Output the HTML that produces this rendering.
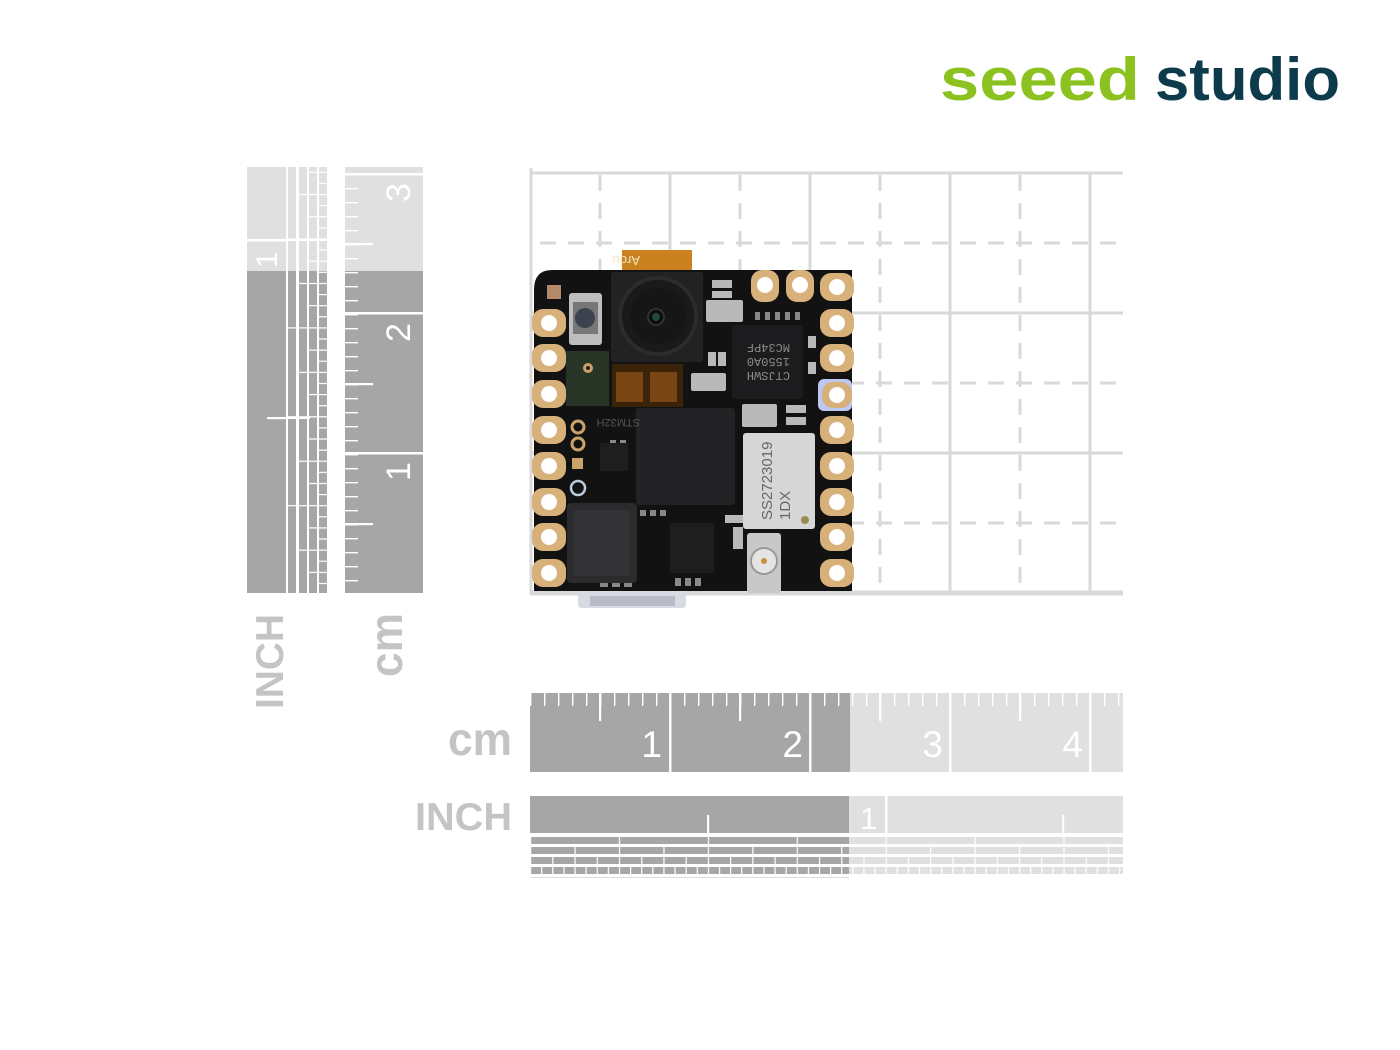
<!DOCTYPE html>
<html><head><meta charset="utf-8"><style>
html,body{margin:0;padding:0;background:#fff;}
svg{display:block;}
</style></head><body>
<svg width="1400" height="1050" viewBox="0 0 1400 1050" xmlns="http://www.w3.org/2000/svg" font-family="'Liberation Sans', sans-serif">
<defs>
  <pattern id="tkB" x="530" y="0" width="14" height="50" patternUnits="userSpaceOnUse"><rect x="-1" y="0" width="2.4" height="50" fill="#fff"/></pattern>
  <pattern id="tkL" x="0" y="594" width="50" height="14" patternUnits="userSpaceOnUse"><rect x="0" y="-1" width="50" height="2.4" fill="#fff"/></pattern>
  <pattern id="r4" x="530" y="0" width="88.9" height="20" patternUnits="userSpaceOnUse"><rect x="-1" y="0" width="2.2" height="20" fill="#fff"/></pattern>
  <pattern id="r8" x="530" y="0" width="44.45" height="20" patternUnits="userSpaceOnUse"><rect x="-1" y="0" width="2.2" height="20" fill="#fff"/></pattern>
  <pattern id="r16" x="530" y="0" width="22.225" height="20" patternUnits="userSpaceOnUse"><rect x="-1" y="0" width="2.2" height="20" fill="#fff"/></pattern>
  <pattern id="r32" x="530" y="0" width="11.1125" height="20" patternUnits="userSpaceOnUse"><rect x="-1" y="0" width="2.2" height="20" fill="#fff"/></pattern>
  <pattern id="v4" x="0" y="594" width="20" height="88.9" patternUnits="userSpaceOnUse"><rect x="0" y="-1" width="20" height="2.2" fill="#fff"/></pattern>
  <pattern id="v8" x="0" y="594" width="20" height="44.45" patternUnits="userSpaceOnUse"><rect x="0" y="-1" width="20" height="2.2" fill="#fff"/></pattern>
  <pattern id="v16" x="0" y="594" width="20" height="22.225" patternUnits="userSpaceOnUse"><rect x="0" y="-1" width="20" height="2.2" fill="#fff"/></pattern>
  <pattern id="v32" x="0" y="594" width="20" height="11.1125" patternUnits="userSpaceOnUse"><rect x="0" y="-1" width="20" height="2.2" fill="#fff"/></pattern>
</defs>

<!-- Logo -->
<text x="940" y="100" font-size="60" font-weight="bold" fill="#8cc21f" textLength="200" lengthAdjust="spacingAndGlyphs">seeed</text>
<text x="1155" y="100" font-size="60" font-weight="bold" fill="#0e3b4c" textLength="185" lengthAdjust="spacingAndGlyphs">studio</text>

<!-- Grid -->
<g stroke="#d9d9d9" stroke-width="3" fill="none">
  <line x1="531" y1="168" x2="531" y2="594"/>
  <line x1="670" y1="172" x2="670" y2="594"/>
  <line x1="810" y1="172" x2="810" y2="594"/>
  <line x1="950" y1="172" x2="950" y2="594"/>
  <line x1="1090" y1="172" x2="1090" y2="594"/>
  <line x1="530" y1="173" x2="1123" y2="173"/>
  <line x1="530" y1="313" x2="1123" y2="313"/>
  <line x1="530" y1="453" x2="1123" y2="453"/>
  <g stroke-dasharray="16 12">
    <line x1="600" y1="175" x2="600" y2="594"/>
    <line x1="740" y1="175" x2="740" y2="594"/>
    <line x1="880" y1="175" x2="880" y2="594"/>
    <line x1="1020" y1="175" x2="1020" y2="594"/>
    <line x1="540" y1="243" x2="1123" y2="243"/>
    <line x1="540" y1="383" x2="1123" y2="383"/>
    <line x1="540" y1="523" x2="1123" y2="523"/>
  </g>
  <line x1="530" y1="593" x2="1123" y2="593" stroke-width="5"/>
</g>

<!-- Board -->
<g>
  <rect x="578" y="588" width="108" height="20" rx="3" fill="#d8dbe3"/>
  <rect x="590" y="596" width="85" height="10" fill="#b8bcc6"/>
  <rect x="622" y="250" width="70" height="24" fill="#c9821d"/>
  <text x="680" y="266" font-size="13" fill="#f3e2c0" transform="rotate(180 660 261)">Ardu</text>
  <path d="M552 270 H852 V591 H534 V290 Q534 270 552 270 Z" fill="#121212"/>
  <!-- pads -->
  <g fill="#d8b07a">
    <rect x="532" y="309" width="34" height="28" rx="11"/>
    <rect x="532" y="344" width="34" height="28" rx="11"/>
    <rect x="532" y="380" width="34" height="28" rx="11"/>
    <rect x="532" y="416" width="34" height="28" rx="11"/>
    <rect x="532" y="452" width="34" height="28" rx="11"/>
    <rect x="532" y="488" width="34" height="28" rx="11"/>
    <rect x="532" y="523" width="34" height="28" rx="11"/>
    <rect x="532" y="559" width="34" height="28" rx="11"/>
    <rect x="820" y="273" width="34" height="28" rx="11"/>
    <rect x="820" y="309" width="34" height="28" rx="11"/>
    <rect x="820" y="344" width="34" height="28" rx="11"/>
    <rect x="820" y="416" width="34" height="28" rx="11"/>
    <rect x="820" y="452" width="34" height="28" rx="11"/>
    <rect x="820" y="488" width="34" height="28" rx="11"/>
    <rect x="820" y="523" width="34" height="28" rx="11"/>
    <rect x="820" y="559" width="34" height="28" rx="11"/>
    <rect x="751" y="270" width="28" height="32" rx="11"/>
    <rect x="786" y="270" width="28" height="32" rx="11"/>
  </g>
  <rect x="818" y="379" width="34" height="32" rx="6" fill="#bcc7f2"/>
  <rect x="822" y="382" width="30" height="26" rx="11" fill="#d8b07a"/>
  <g fill="#fff">
    <circle cx="549" cy="323" r="8"/><circle cx="549" cy="358" r="8"/><circle cx="549" cy="394" r="8"/>
    <circle cx="549" cy="430" r="8"/><circle cx="549" cy="466" r="8"/><circle cx="549" cy="502" r="8"/>
    <circle cx="549" cy="537" r="8"/><circle cx="549" cy="573" r="8"/>
    <circle cx="837" cy="287" r="8"/><circle cx="837" cy="323" r="8"/><circle cx="837" cy="358" r="8"/>
    <circle cx="837" cy="395" r="8"/><circle cx="837" cy="430" r="8"/><circle cx="837" cy="466" r="8"/>
    <circle cx="837" cy="502" r="8"/><circle cx="837" cy="537" r="8"/><circle cx="837" cy="573" r="8"/>
    <circle cx="765" cy="285" r="8"/><circle cx="800" cy="285" r="8"/>
  </g>
  <!-- camera -->
  <rect x="611" y="272" width="92" height="90" rx="3" fill="#222"/>
  <circle cx="658" cy="316" r="38" fill="#1a1a1a" stroke="#2c2c2c" stroke-width="4"/>
  <circle cx="658" cy="316" r="28" fill="#161616"/>
  <circle cx="656" cy="317" r="8" fill="#0c0c0c" stroke="#333" stroke-width="2"/>
  <circle cx="656" cy="317" r="4" fill="#1d4a3a"/>
  <!-- button -->
  <rect x="569" y="293" width="33" height="52" rx="3" fill="#bdbdbd"/>
  <rect x="573" y="302" width="25" height="32" fill="#777"/>
  <circle cx="585" cy="318" r="10" fill="#3c4250"/>
  <rect x="547" y="285" width="14" height="14" fill="#b28a6a"/>
  <!-- mic -->
  <rect x="566" y="351" width="43" height="55" fill="#283526"/>
  <circle cx="588" cy="368" r="5" fill="#caa26a"/><circle cx="588" cy="368" r="2" fill="#222"/>
  <!-- orange parts -->
  <rect x="612" y="364" width="71" height="43" fill="#3a2308"/>
  <rect x="616" y="372" width="27" height="30" fill="#7a4515"/>
  <rect x="650" y="372" width="27" height="30" fill="#7a4515"/>
  <!-- caps -->
  <g fill="#b9b9b9">
    <rect x="706" y="300" width="37" height="22" rx="2"/>
    <rect x="691" y="373" width="35" height="18" rx="2"/>
    <rect x="742" y="404" width="35" height="23" rx="2"/>
    <rect x="712" y="280" width="20" height="8"/><rect x="712" y="291" width="20" height="7"/>
    <rect x="708" y="352" width="8" height="14"/><rect x="718" y="352" width="8" height="14"/>
    <rect x="786" y="405" width="20" height="8"/><rect x="786" y="417" width="20" height="8"/>
    <rect x="808" y="336" width="8" height="12"/><rect x="808" y="362" width="8" height="12"/>
    <rect x="733" y="527" width="10" height="22"/>
    <rect x="725" y="515" width="20" height="8"/>
  </g>
  <g fill="#888">
    <rect x="755" y="312" width="5" height="8"/><rect x="765" y="312" width="5" height="8"/><rect x="775" y="312" width="5" height="8"/><rect x="785" y="312" width="5" height="8"/><rect x="795" y="312" width="5" height="8"/>
    <rect x="610" y="440" width="6" height="6"/><rect x="620" y="440" width="6" height="6"/>
    <rect x="640" y="510" width="6" height="6"/><rect x="650" y="510" width="6" height="6"/><rect x="660" y="510" width="6" height="6"/>
    <rect x="675" y="578" width="6" height="8"/><rect x="685" y="578" width="6" height="8"/><rect x="695" y="578" width="6" height="8"/>
    <rect x="600" y="580" width="8" height="7"/><rect x="612" y="580" width="8" height="7"/><rect x="624" y="580" width="8" height="7"/>
  </g>
  <!-- MC3 chip -->
  <rect x="732" y="325" width="71" height="74" rx="3" fill="#1c1c1e"/>
  <g transform="rotate(180 767 362)" font-family="'Liberation Mono', monospace" font-size="12" fill="#8a8a8a">
    <text x="744" y="352">CTJSWH</text>
    <text x="744" y="366">1550A0</text>
    <text x="744" y="380">MC34PF</text>
  </g>
  <!-- STM32 -->
  <rect x="636" y="408" width="99" height="97" rx="3" fill="#232325"/>
  <text x="700" y="427" font-size="11" fill="#555" transform="rotate(180 670 423)">STM32H</text>
  <!-- silver module -->
  <rect x="743" y="433" width="72" height="96" rx="3" fill="#d6d6d6"/>
  <g transform="rotate(-90 779 481)" font-size="15" fill="#666">
    <text x="740" y="474">SS2723019</text>
    <text x="740" y="492">1DX</text>
  </g>
  <circle cx="805" cy="520" r="4" fill="#9a8a5a"/>
  <!-- bottom chips -->
  <rect x="567" y="503" width="70" height="80" rx="4" fill="#2b2b2d"/>
  <rect x="574" y="510" width="56" height="66" fill="#333336"/>
  <rect x="670" y="523" width="44" height="50" fill="#1e1e1e"/>
  <rect x="600" y="443" width="28" height="28" fill="#1e1e1e"/>
  <!-- arduino logo -->
  <g stroke="#caa26a" stroke-width="3" fill="none">
    <circle cx="578" cy="427" r="6"/><circle cx="578" cy="444" r="6"/>
  </g>
  <rect x="572" y="458" width="11" height="11" fill="#caa26a"/>
  <circle cx="578" cy="488" r="7" fill="none" stroke="#bcd" stroke-width="2.5"/>
  <!-- U.FL -->
  <rect x="747" y="533" width="34" height="60" rx="3" fill="#c8c8c8"/>
  <circle cx="764" cy="561" r="13" fill="#e4e4e4" stroke="#999" stroke-width="2"/>
  <circle cx="764" cy="561" r="3" fill="#c89040"/>
</g>

<!-- Left INCH vertical ruler -->
<g>
  <rect x="247" y="167" width="39" height="104" fill="#e0e0e0"/>
  <rect x="247" y="271" width="39" height="322" fill="#a6a6a6"/>
  <rect x="247" y="239" width="39" height="2.5" fill="#fff"/>
  <rect x="267" y="417" width="19" height="2.2" fill="#fff"/>
  <text x="0" y="0" font-size="30" fill="#fff" transform="translate(277 268) rotate(-90)">1</text>
  <!-- columns -->
  <rect x="288" y="167" width="8" height="104" fill="#e0e0e0"/><rect x="288" y="271" width="8" height="322" fill="#a6a6a6"/>
  <rect x="299" y="167" width="8" height="104" fill="#e0e0e0"/><rect x="299" y="271" width="8" height="322" fill="#a6a6a6"/>
  <rect x="309" y="167" width="8" height="104" fill="#e0e0e0"/><rect x="309" y="271" width="8" height="322" fill="#a6a6a6"/>
  <rect x="319" y="167" width="8" height="104" fill="#e0e0e0"/><rect x="319" y="271" width="8" height="322" fill="#a6a6a6"/>
  <rect x="288" y="167" width="8" height="426" fill="url(#v4)"/>
  <rect x="299" y="167" width="8" height="426" fill="url(#v8)"/>
  <rect x="309" y="167" width="8" height="426" fill="url(#v16)"/>
  <rect x="319" y="167" width="8" height="426" fill="url(#v32)"/>
  <rect x="285" y="417" width="25" height="2" fill="#fff"/>
  <rect x="285" y="239" width="42" height="2" fill="#fff"/>
</g>

<!-- Left cm vertical ruler -->
<g>
  <rect x="345" y="167" width="78" height="104" fill="#e0e0e0"/>
  <rect x="345" y="271" width="78" height="322" fill="#a6a6a6"/>
  <rect x="345" y="171" width="13" height="422" fill="url(#tkL)"/>
  <rect x="345" y="173" width="78" height="2.5" fill="#fff"/>
  <rect x="345" y="312" width="78" height="2.5" fill="#fff"/>
  <rect x="345" y="452" width="78" height="2.5" fill="#fff"/>
  <rect x="345" y="523" width="28" height="2.2" fill="#fff"/>
  <rect x="345" y="383" width="28" height="2.2" fill="#fff"/>
  <rect x="345" y="243" width="28" height="2.2" fill="#fff"/>
  <g font-size="34" fill="#fff">
    <text transform="translate(410 481) rotate(-90)">1</text>
    <text transform="translate(410 342) rotate(-90)">2</text>
    <text transform="translate(410 202) rotate(-90)">3</text>
  </g>
</g>

<!-- vertical labels -->
<text transform="translate(283 709) rotate(-90)" font-size="39" font-weight="bold" fill="#c4c4c4" textLength="95" lengthAdjust="spacingAndGlyphs">INCH</text>
<text transform="translate(402 677) rotate(-90)" font-size="46" font-weight="bold" fill="#c4c4c4" textLength="64" lengthAdjust="spacingAndGlyphs">cm</text>

<!-- Bottom cm ruler -->
<g>
  <rect x="530" y="693" width="320" height="79" fill="#a6a6a6"/>
  <rect x="850" y="693" width="273" height="79" fill="#e0e0e0"/>
  <rect x="530" y="693" width="593" height="13" fill="url(#tkB)"/>
  <rect x="599" y="693" width="2.2" height="28" fill="#fff"/>
  <rect x="739" y="693" width="2.2" height="28" fill="#fff"/>
  <rect x="879" y="693" width="2.2" height="28" fill="#fff"/>
  <rect x="1019" y="693" width="2.2" height="28" fill="#fff"/>
  <rect x="669" y="693" width="2.5" height="79" fill="#fff"/>
  <rect x="809" y="693" width="2.5" height="79" fill="#fff"/>
  <rect x="949" y="693" width="2.5" height="79" fill="#fff"/>
  <rect x="1089" y="693" width="2.5" height="79" fill="#fff"/>
  <g font-size="37" fill="#fff" text-anchor="end">
    <text x="662" y="757">1</text>
    <text x="803" y="757">2</text>
    <text x="943" y="757">3</text>
    <text x="1083" y="757">4</text>
  </g>
</g>
<text x="512" y="755" font-size="46" font-weight="bold" fill="#c4c4c4" text-anchor="end" textLength="64" lengthAdjust="spacingAndGlyphs">cm</text>

<!-- Bottom INCH ruler -->
<g>
  <rect x="530" y="796" width="319" height="37" fill="#a6a6a6"/>
  <rect x="849" y="796" width="274" height="37" fill="#e0e0e0"/>
  <rect x="885" y="796" width="2.5" height="37" fill="#fff"/>
  <rect x="707" y="815" width="2.2" height="20" fill="#fff"/>
  <rect x="1062" y="815" width="2.2" height="20" fill="#fff"/>
  <text x="860" y="829" font-size="31" fill="#fff">1</text>
  <rect x="530" y="837" width="319" height="7" fill="#a6a6a6"/><rect x="849" y="837" width="274" height="7" fill="#e0e0e0"/>
  <rect x="530" y="847" width="319" height="7" fill="#a6a6a6"/><rect x="849" y="847" width="274" height="7" fill="#e0e0e0"/>
  <rect x="530" y="857" width="319" height="7" fill="#a6a6a6"/><rect x="849" y="857" width="274" height="7" fill="#e0e0e0"/>
  <rect x="530" y="867" width="319" height="7" fill="#a6a6a6"/><rect x="849" y="867" width="274" height="7" fill="#e0e0e0"/>
  <rect x="530" y="837" width="593" height="7" fill="url(#r4)"/>
  <rect x="530" y="847" width="593" height="7" fill="url(#r8)"/>
  <rect x="530" y="857" width="593" height="7" fill="url(#r16)"/>
  <rect x="530" y="867" width="593" height="7" fill="url(#r32)"/>
  <rect x="530" y="877" width="319" height="1" fill="#ddd"/>
</g>
<text x="512" y="830" font-size="39" font-weight="bold" fill="#c4c4c4" text-anchor="end" textLength="97" lengthAdjust="spacingAndGlyphs">INCH</text>
</svg>
</body></html>
